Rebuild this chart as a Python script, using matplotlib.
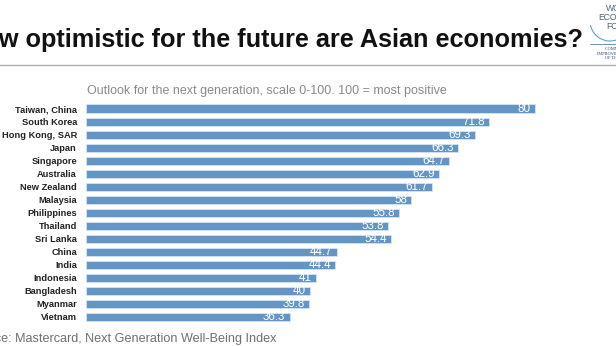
import matplotlib.pyplot as plt
from matplotlib.patches import Arc
from matplotlib.lines import Line2D

plt.rcParams['font.family'] = ['Liberation Sans', 'DejaVu Sans']

# Outlook scores by economy (top to bottom)
economies = ['Taiwan, China', 'South Korea', 'Hong Kong, SAR', 'Japan', 'Singapore',
             'Australia', 'New Zealand', 'Malaysia', 'Philippines', 'Thailand',
             'Sri Lanka', 'China', 'India', 'Indonesia', 'Bangladesh', 'Myanmar',
             'Vietnam']
scores = [80, 71.8, 69.3, 66.3, 64.7, 62.9, 61.7, 58, 55.8, 53.8,
          54.4, 44.7, 44.4, 41, 40, 39.8, 36.3]
score_labels = ['80', '71.8', '69.3', '66.3', '64.7', '62.9', '61.7', '58', '55.8',
                '53.8', '54.4', '44.7', '44.4', '41', '40', '39.8', '36.3']

W, H = 616, 346
fig = plt.figure(figsize=(W / 100, H / 100), dpi=100)
fig.patch.set_facecolor('white')

# axes placed in pixel terms: x=0 at 86px, 5.61 px per point
ax_left, ax_right = 86, 86 + 90 * 5.61
ax_top, ax_bottom = 102, 323.5
ax = fig.add_axes([ax_left / W, 1 - ax_bottom / H,
                   (ax_right - ax_left) / W, (ax_bottom - ax_top) / H])

ypos = list(range(len(economies)))
bars = ax.barh(ypos, scores, height=0.62, color='#6395c5',
               edgecolor='#d6e4f1', linewidth=0.6)
ax.set_xlim(0, 90)
ax.set_ylim(len(economies) - 0.5, -0.5)

for y, v, lab in zip(ypos, scores, score_labels):
    ax.annotate(lab, (v, y), xytext=(-3, -0.3), textcoords='offset points',
                ha='right', va='center', color='white', fontsize=8.4)

ax.set_yticks(ypos)
ax.set_yticklabels(economies, fontsize=6.7, fontweight='bold', color='#222222')
ax.tick_params(axis='y', length=0, pad=6.5)
ax.set_xticks([])
for s in ax.spines.values():
    s.set_visible(False)

# header
fig.text(583 / W, 1 - 47 / H,
         'How optimistic for the future are Asian economies?',
         ha='right', va='baseline', fontsize=18.2, fontweight='bold',
         color='#111111')
fig.add_artist(Line2D([0, 1], [1 - 64.5 / H, 1 - 64.5 / H],
                      color='#b0b0b0', linewidth=1.0))
fig.text(87 / W, 1 - 91 / H,
         'Outlook for the next generation, scale 0-100. 100 = most positive',
         ha='left', va='center', fontsize=9.0, color='#8a8a8a')

# source line
fig.text(276 / W, 1 - 342 / H,
         'Source: Mastercard, Next Generation Well-Being Index',
         ha='right', va='baseline', fontsize=9.1, color='#707070')

# forum mark in the top right corner
fig.text(622 / W, 1 - 29 / H, 'WORLD\nECONOMIC\nFORUM', ha='center',
         va='baseline', fontsize=6.2, color='#4d6580', linespacing=1.0)
fig.add_artist(Arc((610 / W, 1 - 21 / H), 40 / W, 40 / H, theta1=200,
                   theta2=320, color='#6e9bc6', linewidth=0.8))
fig.add_artist(Line2D([590 / W, 1], [1 - 44 / H, 1 - 44 / H],
                      color='#5a7da8', linewidth=0.6))
fig.text(621 / W, 1 - 59 / H, 'COMMITTED TO\nIMPROVING THE STATE\nOF THE WORLD',
         ha='center', va='baseline', fontsize=3.2, family='Liberation Serif',
         color='#2c4670', linespacing=1.1)

fig.savefig('out.png', dpi=100)
